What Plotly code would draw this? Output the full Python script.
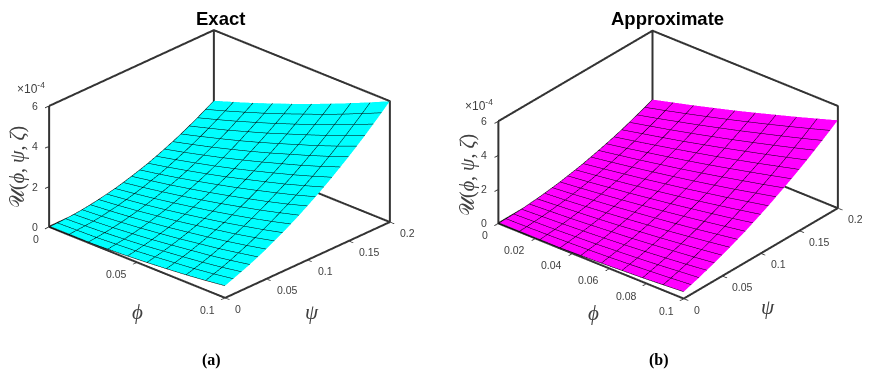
import plotly.graph_objects as go

phi = [0, 0.1/9, 0.2/9, 0.3/9, 0.4/9, 0.5/9, 0.6/9, 0.7/9, 0.8/9, 0.1]
psi = [0, .01, .02, .03, .04, .05, .06, .07, .08, .09, .10, .11, .12, .13, .14, .15, .16, .17, .18, .19, .20]

# values in units of 1e-4; one row per psi, one column per phi
exact = [
 [0, .01, .03, .07, .12, .19, .27, .36, .47, .60],
 [.01, .04, .07, .13, .19, .28, .38, .48, .61, .76],
 [.03, .07, .12, .19, .27, .38, .49, .61, .75, .92],
 [.06, .11, .18, .27, .37, .49, .62, .75, .91, 1.09],
 [.10, .17, .26, .36, .48, .61, .76, .91, 1.09, 1.28],
 [.16, .25, .35, .47, .60, .75, .91, 1.08, 1.27, 1.48],
 [.23, .33, .45, .59, .73, .90, 1.08, 1.26, 1.47, 1.70],
 [.31, .43, .56, .71, .88, 1.06, 1.25, 1.46, 1.68, 1.92],
 [.40, .54, .69, .86, 1.04, 1.23, 1.44, 1.66, 1.90, 2.16],
 [.51, .66, .83, 1.01, 1.21, 1.42, 1.65, 1.88, 2.14, 2.41],
 [.63, .80, .98, 1.18, 1.39, 1.62, 1.86, 2.11, 2.38, 2.68],
 [.76, .94, 1.14, 1.36, 1.59, 1.83, 2.09, 2.36, 2.64, 2.95],
 [.90, 1.10, 1.32, 1.55, 1.79, 2.06, 2.33, 2.61, 2.92, 3.24],
 [1.06, 1.28, 1.51, 1.75, 2.01, 2.29, 2.58, 2.88, 3.20, 3.54],
 [1.23, 1.46, 1.71, 1.97, 2.25, 2.54, 2.85, 3.16, 3.50, 3.86],
 [1.41, 1.66, 1.92, 2.20, 2.49, 2.80, 3.13, 3.46, 3.81, 4.18],
 [1.60, 1.87, 2.15, 2.44, 2.75, 3.08, 3.42, 3.76, 4.13, 4.52],
 [1.81, 2.09, 2.38, 2.70, 3.02, 3.37, 3.72, 4.08, 4.47, 4.87],
 [2.03, 2.33, 2.64, 2.97, 3.31, 3.67, 4.04, 4.42, 4.82, 5.24],
 [2.26, 2.57, 2.90, 3.24, 3.60, 3.98, 4.36, 4.76, 5.18, 5.61],
 [2.50, 2.83, 3.17, 3.54, 3.91, 4.30, 4.70, 5.12, 5.55, 6.00],
]
approx = [
 [0, .01, .02, .04, .08, .12, .18, .24, .32, .40],
 [.01, .03, .06, .10, .15, .21, .28, .36, .45, .55],
 [.02, .06, .10, .16, .22, .30, .38, .48, .59, .70],
 [.04, .10, .16, .23, .31, .40, .50, .61, .73, .87],
 [.08, .15, .22, .31, .41, .51, .63, .76, .89, 1.04],
 [.12, .21, .30, .40, .51, .64, .77, .91, 1.06, 1.22],
 [.18, .27, .38, .50, .63, .77, .91, 1.07, 1.24, 1.42],
 [.24, .35, .48, .61, .76, .91, 1.07, 1.24, 1.43, 1.62],
 [.31, .44, .58, .73, .89, 1.06, 1.24, 1.43, 1.63, 1.83],
 [.40, .54, .70, .86, 1.04, 1.22, 1.42, 1.62, 1.83, 2.06],
 [.49, .65, .82, 1.00, 1.19, 1.39, 1.60, 1.82, 2.05, 2.29],
 [.59, .77, .96, 1.15, 1.36, 1.57, 1.80, 2.03, 2.28, 2.53],
 [.71, .90, 1.10, 1.31, 1.53, 1.76, 2.00, 2.25, 2.52, 2.79],
 [.83, 1.04, 1.25, 1.48, 1.71, 1.96, 2.22, 2.49, 2.76, 3.05],
 [.96, 1.18, 1.42, 1.66, 1.91, 2.17, 2.45, 2.73, 3.02, 3.32],
 [1.10, 1.34, 1.59, 1.85, 2.12, 2.39, 2.68, 2.98, 3.29, 3.60],
 [1.25, 1.51, 1.77, 2.04, 2.33, 2.62, 2.93, 3.24, 3.56, 3.89],
 [1.42, 1.69, 1.96, 2.25, 2.55, 2.86, 3.18, 3.51, 3.85, 4.20],
 [1.59, 1.87, 2.17, 2.47, 2.79, 3.11, 3.45, 3.79, 4.14, 4.51],
 [1.77, 2.07, 2.38, 2.70, 3.03, 3.37, 3.72, 4.08, 4.45, 4.83],
 [1.96, 2.28, 2.60, 2.94, 3.28, 3.64, 4.01, 4.38, 4.77, 5.16],
]

phi_ticks_a = [0, 0.05, 0.1]
phi_ticks_b = [0, 0.02, 0.04, 0.06, 0.08, 0.1]
psi_ticks = [0, 0.05, 0.1, 0.15, 0.2]
z_ticks = [0, 2, 4, 6]
X_MAX, Y_MAX, Z_MAX = 0.1, 0.2, 6
U_LABEL = "𝒰(<i>ϕ</i>, <i>ψ</i>, <i>ζ</i>)"
EYE_SCALE = 2
PAGE_MARGIN = 8  # the page body offsets the figure by this many pixels

fig = go.Figure()


def add_panel(z, color, sc):
    fig.add_trace(go.Surface(
        x=phi, y=psi, z=z, scene=sc, showscale=False,
        colorscale=[[0, color], [1, color]],
        lighting=dict(ambient=1, diffuse=0, specular=0, fresnel=0),
        contours=dict(
            x=dict(show=True, start=0, end=0.1001, size=0.1/9, color="#000000", width=1),
            y=dict(show=True, start=0, end=0.2001, size=0.01, color="#000000", width=1),
        ),
        hoverinfo="skip",
    ))
    bx = [0, 0, X_MAX, X_MAX, None, 0, 0, None, 0, X_MAX, X_MAX, None, 0, 0, 0, None, 0, X_MAX]
    by = [0, Y_MAX, Y_MAX, Y_MAX, None, Y_MAX, Y_MAX, None, 0, 0, Y_MAX, None, 0, 0, Y_MAX, None, Y_MAX, Y_MAX]
    bz = [Z_MAX, Z_MAX, Z_MAX, 0, None, Z_MAX, 0, None, 0, 0, 0, None, Z_MAX, 0, 0, None, 0, 0]
    fig.add_trace(go.Scatter3d(
        x=bx, y=by, z=bz, mode="lines", scene=sc, showlegend=False,
        line=dict(color="#333333", width=4), hoverinfo="skip",
        connectgaps=False,
    ))


add_panel(exact, "#00ffff", "scene")
add_panel(approx, "#ff00ff", "scene2")


def axis(vals, rng):
    return dict(
        range=rng, autorange=False, title=dict(text=""),
        tickmode="array", tickvals=vals, showticklabels=False,
        showgrid=False, zeroline=False, showbackground=False, showline=False,
        showspikes=False, ticks="outside", ticklen=6, tickwidth=2, tickcolor="#333333",
    )


def tick_labels(phi_ticks):
    font = dict(family="Liberation Sans", size=10.5, color="#404040")
    out = []
    for v in phi_ticks:
        out.append(dict(x=v, y=0, z=0, text=str(v), showarrow=False, xanchor="right", yanchor="middle",
                        xshift=-8, yshift=-12, font=font))
    for v in psi_ticks:
        out.append(dict(x=X_MAX, y=v, z=0, text=str(v), showarrow=False, xanchor="left", yanchor="middle",
                        xshift=8, yshift=-11, font=font))
    for v in z_ticks:
        out.append(dict(x=0, y=0, z=v, text=str(v), showarrow=False, xanchor="right", yanchor="middle",
                        xshift=-9, yshift=0, font=font))
    return out


def camera(eye, c):
    return dict(projection=dict(type="orthographic"),
                center=dict(x=c[0], y=c[1], z=c[2]),
                eye=dict(x=eye[0]*EYE_SCALE+c[0], y=eye[1]*EYE_SCALE+c[1], z=eye[2]*EYE_SCALE+c[2]),
                up=dict(x=0, y=0, z=1))


fig.update_layout(
    width=870, height=371, margin=dict(l=0, r=0, t=0, b=0),
    paper_bgcolor="white", showlegend=False,
    scene=dict(
        domain=dict(x=[0, 0.505], y=[0.116, 1]),
        xaxis=axis(phi_ticks_a, [0, X_MAX]),
        yaxis=axis(psi_ticks, [0, Y_MAX]),
        zaxis=axis(z_ticks, [0, Z_MAX]),
        aspectmode="manual", aspectratio=dict(x=1.47, y=1.47, z=0.817),
        annotations=tick_labels(phi_ticks_a),
        camera=camera((.617, -.659, .431), (.050, .018, -.044)),
    ),
    scene2=dict(
        domain=dict(x=[0.5354, 1], y=[0.116, 1]),
        xaxis=axis(phi_ticks_b, [0, X_MAX]),
        yaxis=axis(psi_ticks, [0, Y_MAX]),
        zaxis=axis(z_ticks, [0, Z_MAX]),
        aspectmode="manual", aspectratio=dict(x=1.47, y=1.47, z=0.714),
        annotations=tick_labels(phi_ticks_b),
        camera=camera((.558, -.671, .488), (.051, .014, -.039)),
    ),
)


def label(x, y, text, size, family="Liberation Serif", color="#404040", angle=0):
    fig.add_annotation(xref="paper", yref="paper",
                       x=(x-PAGE_MARGIN)/870, y=1-(y-PAGE_MARGIN)/371,
                       text=text, showarrow=False,
                       xanchor="center", yanchor="middle", textangle=angle,
                       font=dict(family=family, size=size, color=color))


label(220, 18, "<b>Exact</b>", 18.5, "Liberation Sans", "black")
label(667, 18, "<b>Approximate</b>", 18.5, "Liberation Sans", "black")
label(211, 360, "<b>(a)</b>", 16, "Liberation Serif", "black")
label(659, 360, "<b>(b)</b>", 16, "Liberation Serif", "black")
label(137, 312, "<i>ϕ</i>", 21)
label(312, 312, "<i>ψ</i>", 21)
label(593, 313, "<i>ϕ</i>", 21)
label(768, 307, "<i>ψ</i>", 21)
label(17, 167, U_LABEL, 20, angle=-90)
label(467, 175, U_LABEL, 20, angle=-90)
label(31, 88, "×10<sup>-4</sup>", 12, "Liberation Sans")
label(479, 105, "×10<sup>-4</sup>", 12, "Liberation Sans")

fig.write_html("out.html")
